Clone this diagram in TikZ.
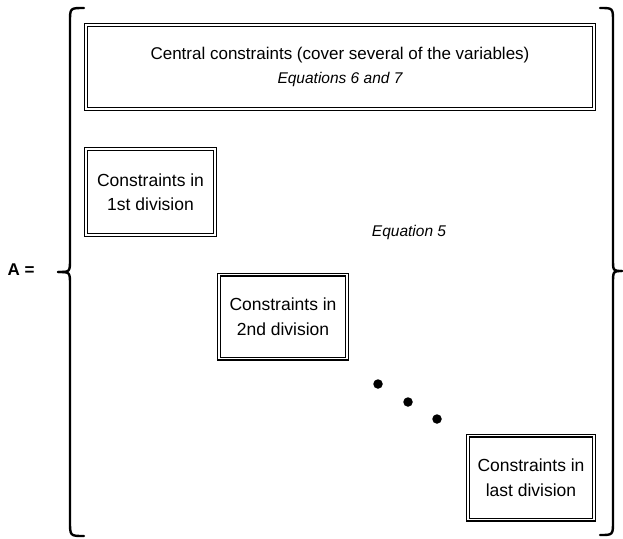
\documentclass[tikz,border=0pt]{standalone}
\usepackage{fontspec}
\setmainfont{Liberation Sans}
\begin{document}
\begin{tikzpicture}[x=1pt,y=-1pt,
  dbox/.style={draw=black,double=white,line width=1.1pt,double distance=1.8pt,
    inner sep=0pt,align=center,font=\fontsize{17.5}{24.5}\selectfont},
  brace/.style={line width=2.4pt,line cap=round,line join=round},
  eqtext/.style={font=\fontsize{15.5}{20}\selectfont\itshape},
  dot/.style={circle,fill=black,inner sep=0pt,minimum size=9.5pt}]
\useasboundingbox (0,0) rectangle (623,538);
% boxes
\node[dbox,minimum width=508pt,minimum height=84pt] (central) at (340,67)
  {\fontsize{17}{24}\selectfont Central constraints (cover several of the variables)\\[-1pt]
   {\fontsize{15.5}{20}\selectfont\itshape Equations 6 and 7}};
\node[dbox,minimum width=129pt,minimum height=86pt] (d1) at (150.5,192)
  {Constraints in\\1st division};
\node[dbox,minimum width=128pt,minimum height=84pt] (d2) at (283,316.5)
  {Constraints in\\2nd division};
\node[dbox,minimum width=126pt,minimum height=84pt] (d3) at (531,477.5)
  {Constraints in\\last division};
\node[eqtext] (eq5) at (409,232) {Equation 5};
\node[font=\fontsize{17}{20}\selectfont\bfseries] (A) at (21,270) {A =};
% dots
\node[dot] (p1) at (378,384) {};
\node[dot] (p2) at (408,402) {};
\node[dot] (p3) at (437,419) {};
% left brace
\draw[brace] (84,8) .. controls (70,8) .. (70,22) -- (70,259)
  .. controls (70,272) .. (58,272);
\draw[brace] (58,272) .. controls (70,272) .. (70,285) -- (70,521)
  .. controls (70,536) .. (84,536);
% right brace
\draw[brace] (600,8) .. controls (613,8) .. (613,22) -- (613,259)
  .. controls (613,271) .. (622,271);
\draw[brace] (622,271) .. controls (613,271) .. (613,284) -- (613,521)
  .. controls (613,535) .. (600,535);
\end{tikzpicture}
\end{document}
